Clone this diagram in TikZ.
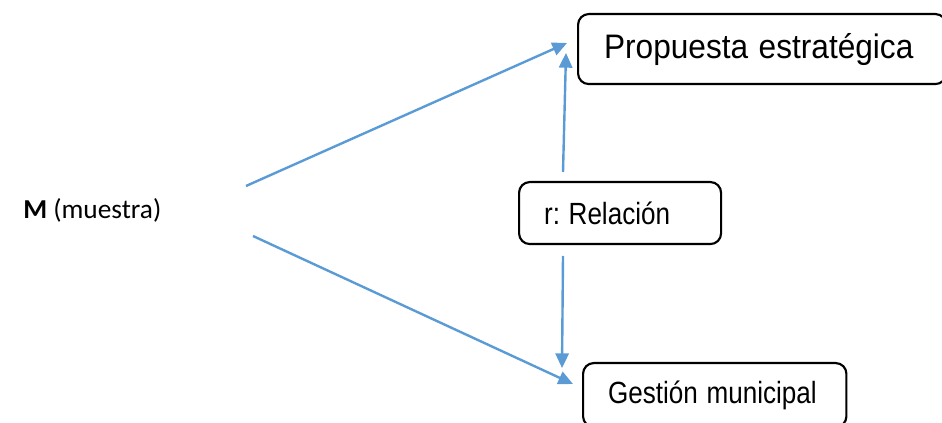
\documentclass[tikz,border=0pt]{standalone}
\usepackage{fontspec}
\usepackage{graphicx}
\setmainfont{Liberation Sans}
\newfontfamily\calib{Carlito}
\frenchspacing
\newcommand{\narrowA}[1]{\scalebox{0.93}[1]{#1}}
\newcommand{\narrowB}[1]{\scalebox{0.85}[1]{#1}}
\usetikzlibrary{arrows.meta}
\definecolor{arrblue}{HTML}{5B9BD5}
\begin{document}
\begin{tikzpicture}[x=0.75pt,y=-0.75pt,
  box/.style={draw=black,line width=1.6pt,rounded corners=8pt,align=left,anchor=north west,inner ysep=0pt},
  conn/.style={draw=arrblue,line width=1.8pt,-{Triangle[length=11pt,width=10pt]}}]
\useasboundingbox (0,0) rectangle (942,423);
% Propuesta box
\node[box,minimum height=52.5pt,text width=237pt,inner xsep=19.5pt,font=\fontsize{25.5pt}{30pt}\selectfont] (P) at (577,13) {\narrowA{Propuesta estratégica}};
% Relacion box
\node[box,minimum height=46.5pt,text width=114pt,inner xsep=18.75pt,font=\fontsize{23pt}{27pt}\selectfont] (R) at (518,181) {\narrowB{r: Relación}};
% Gestion box
\node[box,minimum height=48pt,text width=160pt,inner xsep=18.75pt,font=\fontsize{23pt}{27pt}\selectfont] (G) at (582,362) {\narrowB{Gestión municipal}};
% M label
\node[anchor=base west,inner sep=0pt,font=\calib\fontsize{20.5pt}{24pt}\selectfont] (M) at (23,219) {\textbf{M} (muestra)};
% coordinates
\coordinate (m1) at (246,186);
\coordinate (m2) at (253,236);
\coordinate (p1) at (567,43);
\coordinate (p2) at (566,53);
\coordinate (r1) at (563,172);
\coordinate (r2) at (563,256);
\coordinate (g1) at (562,368);
\coordinate (g2) at (573,384);
\draw[conn] (m1) -- (p1);
\draw[conn] (m2) -- (g2);
\draw[conn] (r1) -- (p2);
\draw[conn] (r2) -- (g1);
\end{tikzpicture}
\end{document}
